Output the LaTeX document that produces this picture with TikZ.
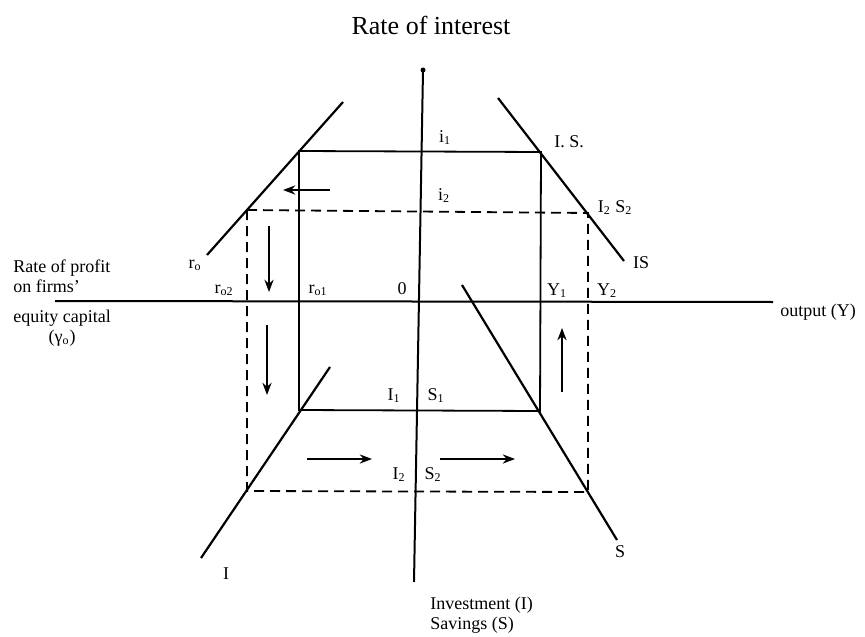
\documentclass[tikz,border=0pt]{standalone}
\usepackage{fontspec}
\setmainfont{Liberation Serif}
\usetikzlibrary{arrows.meta,positioning,calc}

\tikzset{
  axis/.style={line width=1pt},
  curve/.style={line width=1.1pt},
  box/.style={line width=0.9pt},
  dbox/.style={box,dash pattern=on 5pt off 3pt},
  flow/.style={->,line width=0.7pt},
  lbl/.style={inner sep=1pt,font=\fontsize{9}{10}\selectfont}
}

\begin{document}
\begin{tikzpicture}[>=Stealth,x=0.5pt,y=-0.5pt]
  \useasboundingbox (0,0) rectangle (865,636);
  % axes
  \coordinate (L) at (55,301);
  \coordinate (R) at (773,302);
  \coordinate (T) at (423,70);
  \coordinate (B) at (414,582);
  \draw[axis] (L) -- (R);
  \draw[axis] (T) -- (B);
  \fill (T) circle (2.5);
  % schedules
  \coordinate (r1) at (207,255);  \coordinate (r2) at (343,102);
  \coordinate (is1) at (498,98);  \coordinate (is2) at (624,261);
  \coordinate (i1) at (330,367);  \coordinate (i2) at (201,558);
  \coordinate (s1) at (462,285);  \coordinate (s2) at (617,540);
  \draw[curve] (r1) -- (r2);
  \draw[curve] (is1) -- (is2);
  \draw[curve] (i1) -- (i2);
  \draw[curve] (s1) -- (s2);
  % first equilibrium (solid) and second (dashed)
  \coordinate (A1) at (299,151); \coordinate (A2) at (541,152);
  \coordinate (A3) at (540,411); \coordinate (A4) at (299,410);
  \coordinate (D1) at (247,210); \coordinate (D2) at (588,213);
  \coordinate (D3) at (588,492); \coordinate (D4) at (247,491);
  \draw[box] (A1) -- (A2) -- (A3) -- (A4) -- cycle;
  \draw[dbox] (D1) -- (D2) -- (D3) -- (D4) -- cycle;
  % direction of adjustment
  \draw[flow] (330,190) -- (283,190);
  \draw[flow] (269,226) -- (269,292);
  \draw[flow] (267,325) -- (267,395);
  \draw[flow] (307,459) -- (372,459);
  \draw[flow] (440,459) -- (515,459);
  \draw[flow] (562,392) -- (562,328);
  % labels
  \node (title) at (431,25) {\fontsize{13}{15}\selectfont Rate of interest};
  \node[lbl] (li1) at (445,138) {i\textsubscript{1}};
  \node[lbl] (li2) at (444,196) {i\textsubscript{2}};
  \node[lbl] (lIS1) at (569,142) {I. S.};
  \node[lbl] (lIS2) at (615,208) {I\textsubscript{2} S\textsubscript{2}};
  \node[lbl] (lIS) at (641,263) {IS};
  \node[lbl] (lro) at (195,265) {r\textsubscript{o}};
  \node[lbl] (lro2) at (224,290) {r\textsubscript{o2}};
  \node[lbl] (lro1) at (318,290) {r\textsubscript{o1}};
  \node[lbl] (lzero) at (402,289) {0};
  \node[lbl] (lY1) at (557,291) {Y\textsubscript{1}};
  \node[lbl] (lY2) at (607,291) {Y\textsubscript{2}};
  \node[lbl] (lI1) at (394,396) {I\textsubscript{1}};
  \node[lbl] (lS1) at (436,396) {S\textsubscript{1}};
  \node[lbl] (lI2) at (399,475) {I\textsubscript{2}};
  \node[lbl] (lS2) at (433,475) {S\textsubscript{2}};
  \node[lbl] (lI) at (226,574) {I};
  \node[lbl] (lS) at (620,552) {S};
  \node[lbl,align=left,anchor=west] (profit) at (11,276) {Rate of profit\\on firms'};
  \node[lbl,align=center,anchor=west] (equity) at (11,328) {equity capital\\(γ\textsubscript{o})};
  \node[lbl,anchor=west] (output) at (778,312) {output (Y)};
  \node[lbl,align=left,anchor=west] (invest) at (428,615) {Investment (I)\\Savings (S)};
\end{tikzpicture}
\end{document}
